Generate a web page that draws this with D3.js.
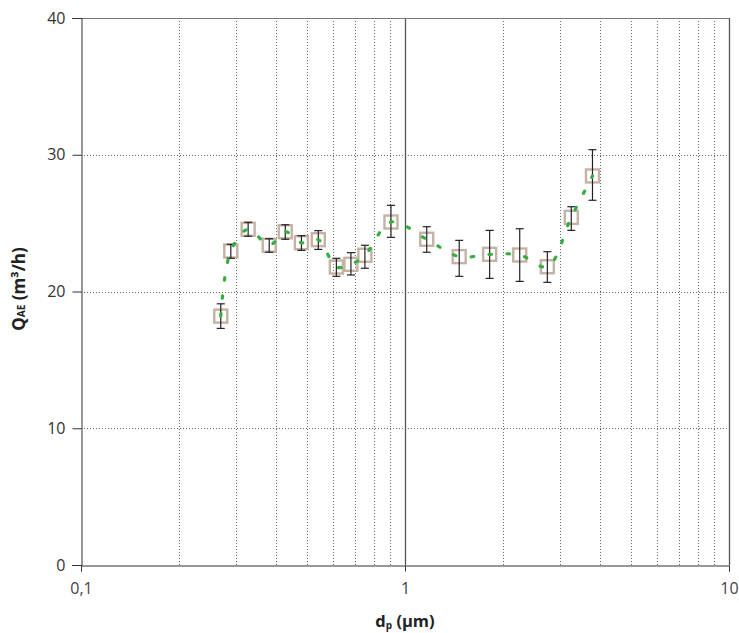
<!DOCTYPE html>
<html><head><meta charset="utf-8">
<script src="https://cdn.jsdelivr.net/npm/d3@7"></script>
<style>body{margin:0;background:#fff}svg{display:block}</style>
</head><body>
<svg id="c" width="739" height="633"></svg>
<script>
const dp   = [0.270,0.290,0.328,0.381,0.427,0.479,0.540,0.614,0.681,0.752,0.905,1.167,1.47,1.825,2.26,2.75,3.26,3.79];
const qae  = [18.2,22.96,24.55,23.38,24.37,23.57,23.79,21.79,21.99,22.65,25.08,23.82,22.55,22.72,22.67,21.81,25.42,28.45];
const errHi= [19.1,23.45,25.06,23.86,24.88,24.08,24.45,22.43,22.84,23.38,26.30,24.74,23.74,24.47,24.59,22.91,26.20,30.37];
const errLo= [17.3,22.43,24.04,22.87,23.82,23.01,23.08,21.11,21.21,21.70,23.96,22.87,21.11,20.96,20.74,20.67,24.47,26.67];
const yTicks = [0,10,20,30,40];
const xMajor = [0.1,1,10];
const xLabels = ["0,1","1","10"];

const svg = d3.select("#c");
const L=81,R=729,T=18,B=565;
const x = d3.scaleLog().domain([0.1,10]).range([L,R]);
const y = d3.scaleLinear().domain([0,40]).range([B,T]);

const allX = x.ticks();
svg.append("g").selectAll("line").data(allX.filter(v=>!xMajor.some(m=>Math.abs(m-v)<1e-9)))
  .join("line").attr("x1",d=>Math.round(x(d))+0.5).attr("x2",d=>Math.round(x(d))+0.5)
  .attr("y1",T).attr("y2",B).attr("stroke","#666").attr("stroke-dasharray","1,2");
svg.append("g").selectAll("line").data(yTicks.filter(v=>v>0&&v<40))
  .join("line").attr("x1",L).attr("x2",R).attr("y1",d=>Math.round(y(d))+0.5).attr("y2",d=>Math.round(y(d))+0.5)
  .attr("stroke","#666").attr("stroke-dasharray","1,2");
svg.append("g").selectAll("line").data(xMajor.slice(1))
  .join("line").attr("x1",d=>Math.round(x(d))+0.5).attr("x2",d=>Math.round(x(d))+0.5)
  .attr("y1",T).attr("y2",B).attr("stroke","#555").attr("stroke-width",1.3);
svg.append("line").attr("x1",L-9).attr("x2",R).attr("y1",T+0.5).attr("y2",T+0.5).attr("stroke","#777");

const yAxis = d3.axisLeft(y).tickValues(yTicks).tickSize(9).tickPadding(7).tickFormat(d3.format("d"));
const gy = svg.append("g").attr("transform",`translate(${L+0.5},0)`).call(yAxis);
gy.select(".domain").attr("stroke","#333");
gy.selectAll(".tick line").attr("stroke","#333");
gy.selectAll("text").attr("font-family","'Open Sans', sans-serif").attr("font-size",16).attr("fill","#333");

const xAxis = d3.axisBottom(x).tickValues(xMajor).tickSize(6).tickPadding(11).tickFormat((d,i)=>xLabels[i]);
const gx = svg.append("g").attr("transform",`translate(0,${B+0.5})`).call(xAxis);
gx.select(".domain").attr("stroke","#333");
gx.selectAll(".tick line").attr("stroke","#333");
gx.selectAll("text").attr("font-family","'Open Sans', sans-serif").attr("font-size",16).attr("fill","#444");
svg.append("line").attr("x1",L-9).attr("x2",L).attr("y1",B+0.5).attr("y2",B+0.5).attr("stroke","#333");

const data = dp.map((d,i)=>({x:d,y:qae[i],hi:errHi[i],lo:errLo[i]}));
const s=13;
svg.append("g").selectAll("rect").data(data).join("rect")
  .attr("x",d=>x(d.x)-s/2).attr("y",d=>y(d.y)-s/2).attr("width",s).attr("height",s)
  .attr("fill","none").attr("stroke","#c4b2a4").attr("stroke-width",2.4);
const eb = svg.append("g").attr("stroke","#222").attr("stroke-width",1.2);
data.forEach(d=>{
  const cx=x(d.x);
  eb.append("line").attr("x1",cx).attr("x2",cx).attr("y1",y(d.hi)).attr("y2",y(d.lo));
  eb.append("line").attr("x1",cx-4).attr("x2",cx+4).attr("y1",y(d.hi)).attr("y2",y(d.hi));
  eb.append("line").attr("x1",cx-4).attr("x2",cx+4).attr("y1",y(d.lo)).attr("y2",y(d.lo));
});
const line = d3.line().x(d=>x(d.x)).y(d=>y(d.y)).curve(d3.curveCatmullRom.alpha(0.5));
svg.append("path").datum(data).attr("d",line).attr("fill","none")
  .attr("stroke","#35ad40").attr("stroke-width",3.2).attr("stroke-dasharray","2.5,15.5").attr("stroke-linecap","round");

const yt = svg.append("text").attr("transform",`translate(25,289) rotate(-90)`)
  .attr("text-anchor","middle").attr("font-family","'Open Sans', sans-serif").attr("font-weight","bold")
  .attr("font-size",17).attr("fill","#222");
yt.append("tspan").text("Q");
yt.append("tspan").attr("font-size",10).text("AE");
yt.append("tspan").text(" (m³/h)");
const xt = svg.append("text").attr("x",(L+R)/2).attr("y",627)
  .attr("text-anchor","middle").attr("font-family","'Open Sans', sans-serif").attr("font-weight","bold")
  .attr("font-size",16.5).attr("fill","#222");
xt.append("tspan").text("d");
xt.append("tspan").attr("font-size",10).attr("dy",2).text("p");
xt.append("tspan").attr("dy",-2).text(" (µm)");
</script>
</body></html>
